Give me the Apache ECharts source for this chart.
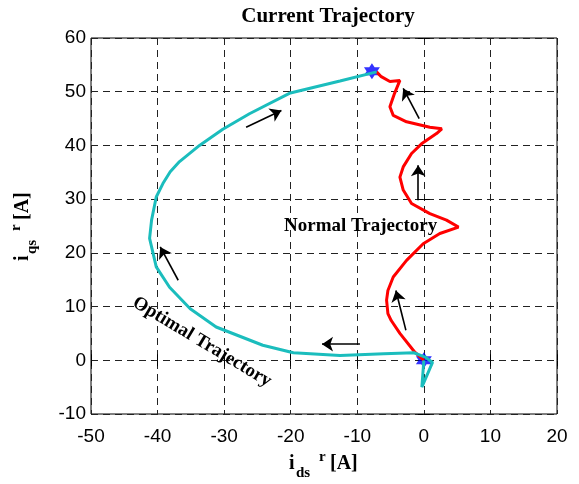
<!DOCTYPE html>
<html>
<head>
<meta charset="utf-8">
<script src="https://cdn.jsdelivr.net/npm/echarts@6/dist/echarts.min.js"></script>
<style>
  html, body { margin: 0; padding: 0; background: #fff; }
  #chart { width: 579px; height: 484px; }
</style>
</head>
<body>
<div id="chart"></div>
<script>
// optimal trajectory (cyan), from start point to end point
const optimalPath = [
  [0, 0], [-0.3, -5], [1.3, -0.4], [0.2, 0.6], [-1.5, 1.4], [-6, 1.2], [-12.6, 0.9],
  [-19.6, 1.4], [-24.2, 2.8], [-31.2, 6.2], [-35.1, 9.6], [-38.2, 13.6], [-40.2, 17.4],
  [-41.2, 22.7], [-40.9, 26.1], [-40.2, 30.4], [-39.2, 32.9], [-38.1, 35.1], [-36.7, 37.0],
  [-33.7, 40.0], [-30.2, 43.0], [-26.2, 45.9], [-20.2, 49.7], [-12.6, 52.0], [-7.1, 53.7]
]
// normal trajectory (red)
const normalPath = [
  [0, 0], [-1.35, 1.5], [-3.6, 5.0], [-4.9, 7.4], [-5.4, 8.7], [-5.6, 11.2], [-5.4, 13.0],
  [-4.6, 15.5], [-2.6, 18.6], [-0.1, 21.7], [2.4, 23.6], [5.2, 24.8], [3.4, 26.1],
  [0.9, 27.3], [-1.85, 29.2], [-3.1, 31.7], [-3.6, 34.1], [-3.1, 36.0], [-1.85, 38.5],
  [-0.35, 40.3], [1.9, 42.2], [2.7, 43.1], [0.9, 43.4], [-2.6, 44.4], [-4.6, 45.6],
  [-5.1, 47.2], [-4.4, 49.7], [-3.6, 52.1], [-5.1, 51.9], [-6.4, 52.8], [-7.1, 53.7]
]
// start / end markers
const markers = [[0, 0], [-7.8, 53.8]]
// direction arrows [from, to]
const arrows = [
  [[-26.7, 43.4], [-21.4, 46.5]],
  [[-36.9, 14.9], [-39.6, 21.1]],
  [[-9.6, 3.0], [-15.3, 3.0]],
  [[-2.7, 5.6], [-4.2, 13.0]],
  [[-0.85, 29.8], [-0.85, 36.3]],
  [[-0.7, 45.0], [-3.1, 50.6]]
]

const serif = "'Times New Roman', 'Liberation Serif', serif"
const sans = "Arial, 'Liberation Sans', sans-serif"
const star = 'path://M0,-10L8.66,5L-8.66,5Z M0,10L-8.66,-5L8.66,-5Z'

let myChart = echarts.init(document.getElementById('chart'))

let axisCommon = {
  axisLine: { show: false },
  axisTick: { show: true, inside: true, length: 6, lineStyle: { color: '#000' } },
  axisLabel: { color: '#000', fontSize: 19, fontFamily: sans },
  splitLine: { show: false }
}

let option = {
  animation: false,
  title: {
    text: 'Current Trajectory',
    left: 323,
    textAlign: 'center',
    top: 1,
    textStyle: { fontFamily: serif, fontWeight: 'bold', fontSize: 21, color: '#000' }
  },
  grid: {
    left: 91, right: 22, top: 38, bottom: 70,
    show: true, borderColor: '#000', borderWidth: 1, backgroundColor: '#fff'
  },
  xAxis: [
    Object.assign({}, axisCommon, {
      type: 'value', min: -50, max: 20, interval: 10, position: 'bottom',
      axisLabel: Object.assign({}, axisCommon.axisLabel, { margin: 13 }),
      splitLine: { show: true, lineStyle: { color: '#222', type: [7, 5], width: 1 } }
    }),
    Object.assign({}, axisCommon, {
      type: 'value', min: -50, max: 20, interval: 10, position: 'top',
      axisLabel: { show: false }
    })
  ],
  yAxis: [
    Object.assign({}, axisCommon, {
      type: 'value', min: -10, max: 60, interval: 10, position: 'left',
      axisLabel: Object.assign({}, axisCommon.axisLabel, { margin: 5 }),
      splitLine: { show: true, lineStyle: { color: '#222', type: [7, 5], width: 1 } }
    }),
    Object.assign({}, axisCommon, {
      type: 'value', min: -10, max: 60, interval: 10, position: 'right',
      axisLabel: { show: false }
    })
  ],
  series: [
    {
      type: 'scatter',
      data: markers,
      symbol: star,
      symbolSize: 16,
      itemStyle: { color: '#0000ff' },
      z: 2
    },
    {
      type: 'line',
      data: normalPath,
      showSymbol: false,
      lineStyle: { color: '#ff0000', width: 3 },
      z: 3
    },
    {
      type: 'line',
      data: optimalPath,
      showSymbol: false,
      lineStyle: { color: '#1bbdbd', width: 3 },
      z: 4
    },
    {
      type: 'lines',
      coordinateSystem: 'cartesian2d',
      symbol: ['none', 'arrow'],
      symbolSize: 11,
      lineStyle: { color: '#000', width: 1.6, opacity: 1 },
      data: arrows.map(a => ({ coords: a })),
      z: 5
    }
  ],
  graphic: [
    {
      type: 'text', left: 284, top: 217, z: 10,
      style: { text: 'Normal Trajectory', font: 'bold 19px ' + serif, fill: '#000' }
    },
    {
      type: 'text', x: 202, y: 342, rotation: -31 * Math.PI / 180, z: 10,
      style: { text: 'Optimal Trajectory', font: 'bold 19px ' + serif, fill: '#000', align: 'center', verticalAlign: 'middle' }
    },
    {
      type: 'group', x: 289, y: 464,
      children: [
        { type: 'text', x: 0, y: 0, style: { text: 'i', font: 'bold 20px ' + serif, fill: '#000', verticalAlign: 'middle' } },
        { type: 'text', x: 7, y: 9, style: { text: 'ds', font: 'bold 15px ' + serif, fill: '#000', verticalAlign: 'middle' } },
        { type: 'text', x: 30, y: -7, style: { text: 'r', font: 'bold 15px ' + serif, fill: '#000', verticalAlign: 'middle' } },
        { type: 'text', x: 41, y: 0, style: { text: '[A]', font: 'bold 20px ' + serif, fill: '#000', verticalAlign: 'middle' } }
      ]
    },
    {
      type: 'group', x: 23, y: 261, rotation: Math.PI / 2,
      children: [
        { type: 'text', x: 0, y: 0, style: { text: 'i', font: 'bold 20px ' + serif, fill: '#000', verticalAlign: 'middle' } },
        { type: 'text', x: 7, y: 9, style: { text: 'qs', font: 'bold 15px ' + serif, fill: '#000', verticalAlign: 'middle' } },
        { type: 'text', x: 30, y: -7, style: { text: 'r', font: 'bold 15px ' + serif, fill: '#000', verticalAlign: 'middle' } },
        { type: 'text', x: 41, y: 0, style: { text: '[A]', font: 'bold 20px ' + serif, fill: '#000', verticalAlign: 'middle' } }
      ]
    }
  ]
}

myChart.setOption(option)
</script>
</body>
</html>
